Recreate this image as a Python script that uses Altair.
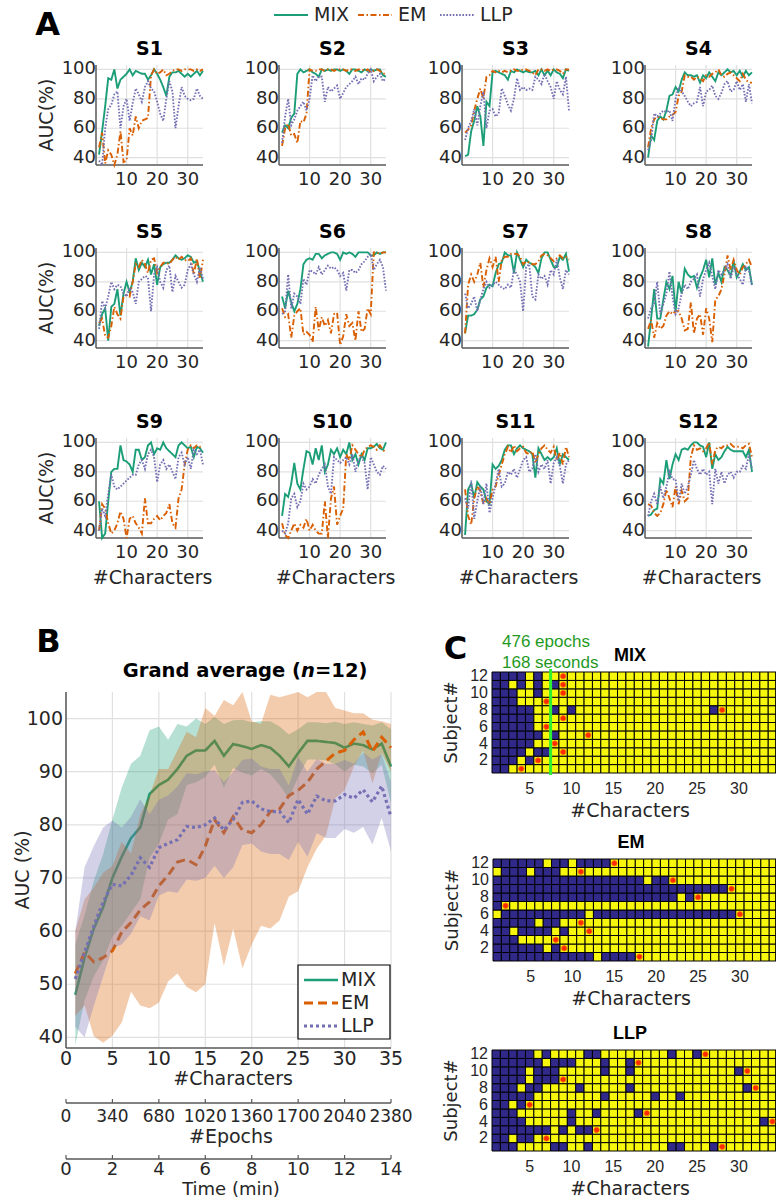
import altair as alt
import pandas as pd

GREEN, ORANGE, PURPLE = '#1b9e77', '#d95f02', '#7570b3'
METHODS = ['MIX', 'EM', 'LLP']
COLORS = [GREEN, ORANGE, PURPLE]
DASH_A = [[1, 0], [6, 2.5, 1.5, 2.5], [1.6, 1.6]]
CHARS = list(range(1, 36))
FONT = 'DejaVu Sans'
CFONT = 'Liberation Sans'
GRID, AXC, TXT = '#e0e0e0', '#595959', '#262626'

# ---------------- Panel A: per-subject AUC (%) ----------------
MIX_AUC = {
    1: [42,58,75,94,93,100,87,93,95,97,100,96,99,98,97,97,93,96,100,97,93,88,82,95,98,98,99,97,95,97,95,97,99,96,99],
    2: [57,62,60,67,70,97,100,98,99,100,98,97,95,100,99,100,99,100,100,99,100,99,97,100,100,99,98,100,99,100,99,100,100,96,95],
    3: [41,42,58,65,75,68,48,78,75,98,99,98,97,96,93,99,98,100,99,98,99,98,98,99,96,100,96,99,96,100,98,97,94,100,99],
    4: [40,55,52,65,68,66,72,82,83,88,85,93,98,96,96,95,96,91,96,94,98,95,92,98,96,98,100,98,99,96,99,95,99,96,98],
    5: [50,58,62,40,63,65,75,57,72,80,73,80,96,88,93,90,95,85,92,78,90,92,93,93,95,98,96,95,96,98,97,93,94,87,80],
    6: [70,62,74,66,60,65,75,92,95,96,95,99,99,96,98,99,100,100,99,95,100,99,100,99,97,100,100,100,100,98,98,100,99,100,100],
    7: [45,57,57,58,61,68,70,76,78,77,86,92,93,100,98,98,86,100,95,90,95,93,92,90,86,96,100,100,95,90,90,97,95,99,87],
    8: [36,55,75,55,55,68,80,75,84,60,80,72,89,85,83,84,76,83,88,95,83,96,78,86,80,90,88,84,94,83,87,92,88,90,78],
    9: [60,35,38,60,80,82,82,98,88,87,85,80,95,95,88,90,98,100,92,96,95,100,96,94,92,90,98,100,98,96,97,90,97,96,93],
    10: [50,65,63,72,86,72,68,82,94,93,85,96,88,98,80,85,95,92,96,90,95,92,100,88,92,85,92,88,96,96,97,99,96,95,100],
    11: [37,68,72,62,73,70,68,60,58,85,82,84,88,95,98,98,92,96,98,96,95,94,92,76,96,92,88,90,88,90,96,85,92,90,88],
    12: [50,51,54,55,75,72,88,75,85,92,88,95,96,95,98,100,100,98,97,90,100,82,92,88,90,94,97,95,94,94,94,94,90,95,80],
}
EM_AUC = {
    1: [47,57,36,45,42,35,42,58,37,38,60,55,68,60,65,66,67,96,100,97,98,100,96,97,99,100,100,99,100,100,100,99,100,99,100],
    2: [48,60,63,55,56,50,65,64,70,100,99,99,100,100,99,100,100,99,100,100,100,99,100,100,99,100,100,99,100,98,99,100,99,97,97],
    3: [57,59,62,72,80,87,80,95,96,99,98,99,98,99,98,99,100,99,99,100,100,99,98,96,100,100,99,100,99,100,100,99,97,100,100],
    4: [47,60,66,68,67,66,66,68,69,71,82,85,96,95,95,93,95,94,92,96,95,97,98,100,96,95,97,98,96,94,92,97,93,91,91],
    5: [52,55,43,42,50,63,58,55,70,71,70,80,92,90,95,92,86,95,96,86,90,93,93,92,95,97,95,97,95,94,96,85,96,82,95],
    6: [62,56,58,42,57,60,62,44,46,44,39,63,47,56,50,54,45,58,59,37,43,58,50,52,40,60,46,48,62,58,100,100,99,100,100],
    7: [45,78,85,80,85,93,76,88,96,90,97,80,95,97,97,99,99,99,97,92,94,93,92,92,94,98,99,98,96,94,96,98,96,97,95],
    8: [48,54,42,52,48,50,57,60,58,60,60,55,47,48,66,45,55,58,44,62,55,39,68,70,75,85,98,88,95,88,85,90,92,95,90],
    9: [40,58,55,45,38,40,45,53,48,35,48,50,45,42,38,62,45,45,48,50,47,50,52,58,45,42,62,68,85,95,98,96,98,97,98],
    10: [45,37,35,40,45,40,44,42,48,40,44,40,38,38,60,35,62,70,44,50,55,92,88,98,95,92,90,95,97,98,97,95,98,95,93],
    11: [68,50,44,62,70,67,58,62,58,68,70,78,85,92,97,93,98,94,96,97,93,92,94,86,92,96,98,95,93,97,88,93,85,97,90],
    12: [58,57,52,50,52,58,68,62,56,70,58,67,60,62,90,98,95,96,94,96,100,85,95,97,96,98,98,99,97,97,97,96,98,99,90],
}
LLP_AUC = {
    1: [38,35,60,73,76,83,85,60,75,80,65,77,87,83,78,88,92,87,85,78,70,65,80,92,85,60,75,88,82,80,79,80,87,82,80],
    2: [50,68,80,62,66,72,75,78,72,80,96,92,95,95,78,88,85,87,89,80,84,88,90,92,95,90,94,93,97,100,92,95,97,92,94],
    3: [52,60,65,73,62,75,85,60,72,73,68,70,87,82,76,72,80,94,86,88,86,87,86,95,93,90,97,92,88,80,92,86,83,95,72],
    4: [45,52,70,68,70,72,71,72,65,80,88,85,82,78,75,77,78,88,75,85,86,89,82,80,84,90,92,85,86,92,86,90,78,90,77],
    5: [48,67,62,70,80,75,78,77,72,70,76,73,65,80,82,84,83,60,85,90,80,76,88,91,73,84,80,76,78,88,92,85,80,90,82],
    6: [58,60,85,62,72,70,65,82,78,88,87,85,90,85,88,91,89,90,88,84,86,74,88,88,86,88,92,94,97,99,88,92,95,90,74],
    7: [72,62,65,70,60,68,75,80,76,78,80,78,76,75,78,76,88,85,80,60,90,92,70,68,85,82,84,78,88,85,95,83,75,88,85],
    8: [55,62,65,80,58,65,72,87,70,58,62,72,78,75,80,82,85,70,82,88,93,84,75,88,85,88,92,82,90,85,82,78,90,88,77],
    9: [40,55,50,65,78,70,68,70,72,74,76,78,78,85,88,82,92,95,90,73,85,88,82,85,80,75,90,93,85,90,82,95,92,95,85],
    10: [40,38,45,62,65,56,60,72,68,70,75,72,78,82,85,70,65,90,88,86,88,90,85,92,80,88,90,86,68,90,85,80,78,84,82],
    11: [62,55,74,48,60,70,58,72,52,62,72,82,70,72,80,78,82,76,82,88,90,80,82,92,80,85,82,88,72,86,90,84,72,85,88],
    12: [50,60,65,58,70,62,70,80,75,75,60,72,65,70,78,88,82,78,82,78,80,58,82,72,80,72,78,80,76,80,80,84,82,92,82],
}
A_YTICKS = [40, 60, 80, 100]
A_XTICKS = [10, 20, 30]

# ---------------- Panel B: grand average ----------------
MIX_MEAN = [48,55,60.5,64.5,70,74,77.5,79.5,85.8,87.5,88.5,90.5,93,94,94,95.8,93,95.2,94.8,94.3,95,94.5,93,91,93.5,95.8,95.8,95.6,95.4,94.5,95.3,95,94.2,95.3,91]
MIX_SD = [9.5,8,9,10,11,13,14,13.5,12,11,7.5,8.5,5.5,6,5,4.5,6,4.5,5,5,4.5,5,5.5,6,4.5,3.5,3.5,3.5,4,4.5,4,4,4.5,4,7]
EM_MEAN = [52,56,54.2,55,56.3,59.8,61.6,64,65.5,68.5,70.5,73,73.5,72.5,76,81,78.5,81.5,79,78.5,80,82.5,83,85.5,86.5,88,90.5,92,93.5,94,96,97.5,93.8,96.5,94.5]
EM_SD = [8,10,14,16,16,17,13,18,20,22,20,21,24,24,26,19.5,25,21,26,21,19,22,21,19,19,16,15,14,8.5,7.5,5,3.5,6,3,4.5]
LLP_MEAN = [51,56,61,65.5,68.8,68.5,70.5,73.8,72,75.7,76.5,77.2,79.7,79.5,80,81.3,79,81,84.2,84.5,83,82.5,82.5,80.4,84.8,82,85.4,84.5,84.5,85.7,85,86.6,84.3,87.3,81.5]
LLP_SD = [9,16,15,14,12,11,11,11,10,9,9,10,10,10,10,9,9,9,8,8,8,8,8,7,8,8,7,7,7,6.5,6.5,7,8,6,6.5]
B_XTICKS = [0, 5, 10, 15, 20, 25, 30, 35]
B_YTICKS = [40, 50, 60, 70, 80, 90, 100]
EPOCH_TICKS = [0, 340, 680, 1020, 1360, 1700, 2040, 2380]
TIME_TICKS = [0, 2, 4, 6, 8, 10, 12, 14]

# ---------------- Panel C: cells below threshold (blue) + marker ----------------
MIX_BLUE = {1: [1,2], 2: [1,2,3,5], 3: [1,2,3,4,6,7], 4: [1,2,3,4,5], 5: [1,2,3,4,5,6,8],
            6: [1,2,3,4,5], 7: [1,2,3,4,5], 8: [1,2,3,4,5,8,10,27], 9: [1,2,3],
            10: [1,2,3,6], 11: [1,2,4,6,8], 12: [1,2,3,4,6]}
MIX_DOT = {1: 4, 2: 6, 3: 9, 4: 8, 5: 12, 6: 7, 7: 9, 8: 28, 9: 7, 10: 9, 11: 9, 12: 9}
EM_BLUE = {1: [1,2,3,4,5,6,7,8,9,10,11,12,14,15,16,17], 2: [1,2,3,4,5,6,8], 3: [1,2,3],
           4: [1,2,4,5,6,7,9], 5: [1,2,3,4,5,7,8],
           6: [2,3,4,5,6,7,8,9,10,11,13,14,15,16,17,18,19,20,21,22,23,24,25,26,27,28,29],
           7: [1], 8: [1,2,3,4,5,6,7,8,9,10,11,12,13,14,15,16,17,18,19,20,21,22,24],
           9: [1,2,3,4,5,6,7,8,9,10,11,12,13,14,15,16,17,18,19,20,21,22,23,24,25,26,27,28],
           10: [1,2,3,4,5,6,7,8,9,10,11,12,13,14,15,16,17,18,20,21],
           11: [2,3,4,6,7,8], 12: [1,2,3,4,5,6,8,9,11,12,13,14]}
EM_DOT = {1: 18, 2: 9, 3: 8, 4: 12, 5: 11, 6: 30, 7: 2, 8: 25, 9: 29, 10: 22, 11: 11, 12: 15}
LLP_BLUE = {1: [1,2,3,8,9,12,22,23,27], 2: [1,2,4,5], 3: [1,2,3,4,5,6,7,9,11,12],
            4: [1,2,3,4,10,33], 5: [1,2,3,10,13,18], 6: [1,2,4], 7: [1,2,3,4,5,14,20,23],
            8: [1,2,3,5,6,11,17,31], 9: [1,2,3,4,6,7,8], 10: [1,2,3,4,6,7,8,14,17,30],
            11: [1,2,3,4,5,6,8,9,10,14,17], 12: [1,2,3,4,5,7,12,13,22,25]}
LLP_DOT = {1: 28, 2: 7, 3: 13, 4: 34, 5: 19, 6: 5, 8: 32, 9: 9, 10: 31, 11: 18, 12: 26}
C_XTICKS = [5, 10, 15, 20, 25, 30]
C_YTICKS = [2, 4, 6, 8, 10, 12]
BLUE, YELLOW, RED = '#30298a', '#f7f70e', '#ff2a00'


def one():
    return alt.Chart(pd.DataFrame({'k': [0]}))


def sc(dom, rng):
    return alt.Scale(domain=dom, range=rng, nice=False, zero=False, clamp=True)


def helpers(xs, ys):
    X = lambda f: alt.X(f, scale=xs, axis=None)
    Y = lambda f: alt.Y(f, scale=ys, axis=None)
    XD = lambda v: alt.XDatum(v, scale=xs, axis=None)
    YD = lambda v: alt.YDatum(v, scale=ys, axis=None)
    return X, Y, XD, YD


# ---------- Panel A ----------
A_LEFT = [96, 279, 462, 645]
A_BOTTOM = [165, 348, 538]
A_W, A_H = 107, 100


def panel_a(k):
    r, q = divmod(k - 1, 4)
    L, B = A_LEFT[q], A_BOTTOM[r]
    xs = sc([0, 35], [L, L + A_W])
    ys = sc([35, 103], [B, B - A_H])
    X, Y, XD, YD = helpers(xs, ys)
    yt = pd.DataFrame({'v': A_YTICKS})
    xt = pd.DataFrame({'g': A_XTICKS})
    lay = [
        alt.Chart(yt).mark_rule(color=GRID, strokeWidth=1.2).encode(x=XD(0), x2=alt.X2Datum(35), y=Y('v:Q')),
        alt.Chart(xt).mark_rule(color=GRID, strokeWidth=1.2).encode(x=X('g:Q'), y=YD(35), y2=alt.Y2Datum(103)),
        one().mark_rule(color=AXC, strokeWidth=1.5).encode(x=XD(0), y=YD(35), y2=alt.Y2Datum(103)),
        one().mark_rule(color=AXC, strokeWidth=1.5).encode(x=XD(0), x2=alt.X2Datum(35), y=YD(35)),
        alt.Chart(yt).mark_text(align='right', baseline='middle', font=FONT, fontSize=18, color=TXT).encode(
            x=XD(0), y=Y('v:Q'), text='v:Q'),
        alt.Chart(xt).mark_text(align='center', baseline='middle', font=FONT, fontSize=18, color=TXT, dy=15).encode(
            x=X('g:Q'), y=YD(35), text='g:Q'),
    ]
    df = pd.DataFrame({'c': CHARS * 3, 'v': MIX_AUC[k] + EM_AUC[k] + LLP_AUC[k],
                       'm': ['MIX'] * 35 + ['EM'] * 35 + ['LLP'] * 35})
    lay.append(alt.Chart(df).mark_line(strokeWidth=1.9).encode(
        x=X('c:Q'), y=Y('v:Q'),
        color=alt.Color('m:N', scale=alt.Scale(domain=METHODS, range=COLORS), legend=None),
        strokeDash=alt.StrokeDash('m:N', scale=alt.Scale(domain=METHODS, range=DASH_A), legend=None)))
    lay.append(one().mark_text(text=f'S{k}', font=FONT, fontSize=19, fontWeight='bold', color='black',
                               baseline='middle', dy=-16).encode(x=XD(17.5), y=YD(103)))
    if q == 0:
        # rotated text: dy moves it horizontally (negative = left)
        lay.append(one().mark_text(text='AUC(%)', font=FONT, fontSize=19, color=TXT, angle=270,
                                   align='center', baseline='middle', dy=-49).encode(x=XD(0), y=YD(69)))
    if r == 2:
        lay.append(one().mark_text(text='#Characters', font=FONT, fontSize=19, color=TXT,
                                   baseline='middle', dy=40).encode(x=XD(18.5), y=YD(35)))
    return alt.layer(*lay)


legend_a = []
for name, col, dash, x0, xt_ in [('MIX', GREEN, [1, 0], 274, 314), ('EM', ORANGE, [6, 2.5, 1.5, 2.5], 358, 398),
                                  ('LLP', PURPLE, [1.6, 1.6], 440, 480)]:
    legend_a.append(one().mark_rule(color=col, strokeWidth=2, strokeDash=dash).encode(
        x=alt.value(x0), x2=alt.value(x0 + 34), y=alt.value(15)))
    legend_a.append(one().mark_text(text=name, align='left', baseline='middle', font=FONT, fontSize=19,
                                    color=TXT).encode(x=alt.value(xt_), y=alt.value(15)))

# ---------- Panel B ----------
BL, BR, BT, BB = 66, 391, 692, 1048


def panel_b():
    xs = sc([0, 35], [BL, BR])
    ys = sc([38, 105], [BB, BT])
    X, Y, XD, YD = helpers(xs, ys)
    yt = pd.DataFrame({'v': B_YTICKS})
    xt = pd.DataFrame({'g': B_XTICKS})
    lay = [
        alt.Chart(yt).mark_rule(color=GRID, strokeWidth=1.2).encode(x=XD(0), x2=alt.X2Datum(35), y=Y('v:Q')),
        alt.Chart(xt).mark_rule(color=GRID, strokeWidth=1.2).encode(x=X('g:Q'), y=YD(38), y2=alt.Y2Datum(105)),
    ]
    for mean, sd, col, dash, w in [(MIX_MEAN, MIX_SD, GREEN, [1, 0], 2.6), (EM_MEAN, EM_SD, ORANGE, [9, 5], 3),
                                   (LLP_MEAN, LLP_SD, PURPLE, [3, 3], 3.2)]:
        df = pd.DataFrame({'c': CHARS, 'm': mean, 'sd': sd})
        df['lo'] = df.m - df.sd
        df['hi'] = df.m + df.sd
        lay.append(alt.Chart(df).mark_area(color=col, opacity=0.32).encode(x=X('c:Q'), y=Y('lo:Q'), y2='hi:Q'))
        lay.append(alt.Chart(df).mark_line(color=col, strokeWidth=w, strokeDash=dash).encode(x=X('c:Q'), y=Y('m:Q')))
    lay += [
        one().mark_rule(color=AXC, strokeWidth=1.5).encode(x=XD(0), y=YD(38), y2=alt.Y2Datum(105)),
        one().mark_rule(color=AXC, strokeWidth=1.5).encode(x=XD(0), x2=alt.X2Datum(35), y=YD(38)),
        alt.Chart(yt).mark_text(align='right', baseline='middle', font=FONT, fontSize=19, color=TXT, dx=-3).encode(
            x=XD(0), y=Y('v:Q'), text='v:Q'),
        alt.Chart(xt).mark_text(align='center', baseline='middle', font=FONT, fontSize=19, color=TXT, dy=11).encode(
            x=X('g:Q'), y=YD(38), text='g:Q'),
        one().mark_text(text='#Characters', font=FONT, fontSize=19, color=TXT, baseline='middle', dy=31).encode(
            x=XD(18), y=YD(38)),
        one().mark_text(text='AUC (%)', font=FONT, fontSize=19, color=TXT, angle=270, align='center',
                        baseline='middle', dy=-43).encode(x=XD(0), y=YD(71.5)),
    ]
    # legend box
    lay.append(one().mark_rect(fill='white', stroke='black', strokeWidth=1.2).encode(
        x=alt.value(298), x2=alt.value(390), y=alt.value(965), y2=alt.value(1039)))
    for name, col, dash, w, yy in [('MIX', GREEN, [1, 0], 2.6, 980), ('EM', ORANGE, [9, 5], 3, 1003),
                                   ('LLP', PURPLE, [3, 3], 3, 1026)]:
        lay.append(one().mark_rule(color=col, strokeWidth=w, strokeDash=dash).encode(
            x=alt.value(304), x2=alt.value(338), y=alt.value(yy)))
        lay.append(one().mark_text(text=name, align='left', baseline='middle', font=FONT, fontSize=19,
                                   color=TXT).encode(x=alt.value(341), y=alt.value(yy)))
    return alt.layer(*lay)


def sec_axis(ticks, dom, ly, fs, ldy, ttl, tfs, ty):
    s2 = sc(dom, [BL, BR])
    tdf = pd.DataFrame({'t': ticks})
    return alt.layer(
        one().mark_rule(color=AXC, strokeWidth=1.5).encode(
            x=alt.XDatum(dom[0], scale=s2, axis=None), x2=alt.X2Datum(dom[1]), y=alt.value(ly)),
        alt.Chart(tdf).mark_rule(color=AXC, strokeWidth=1.2).encode(
            x=alt.X('t:Q', scale=s2, axis=None), y=alt.value(ly - 4), y2=alt.value(ly)),
        alt.Chart(tdf).mark_text(align='center', baseline='middle', font=FONT, fontSize=fs, color=TXT).encode(
            x=alt.X('t:Q', scale=s2, axis=None), y=alt.value(ly + ldy), text='t:Q'),
        one().mark_text(text=ttl, font=FONT, fontSize=tfs, color=TXT, baseline='middle').encode(
            x=alt.value(231), y=alt.value(ty)),
    )


b_title = [
    one().mark_text(text='Grand average (', align='right', baseline='middle', font=FONT, fontSize=19.5,
                    fontWeight='bold').encode(x=alt.value(301), y=alt.value(671)),
    one().mark_text(text='n', align='left', baseline='middle', font=FONT, fontSize=19.5, fontWeight='bold',
                    fontStyle='italic').encode(x=alt.value(301), y=alt.value(671)),
    one().mark_text(text='=12)', align='left', baseline='middle', font=FONT, fontSize=19.5,
                    fontWeight='bold').encode(x=alt.value(315), y=alt.value(671)),
]

# ---------- Panel C ----------
CW = 8.37


def panel_c(title, blue, dots, L, T, Bm, marker=False):
    xs = sc([0.5, 0.5 + (776 - L) / CW], [L, 776])
    ys = sc([0.5, 12.5], [Bm, T])
    X, Y, XD, YD = helpers(xs, ys)
    recs = [{'c0': c - 0.5, 'c1': c + 0.5, 's0': s - 0.5, 's1': s + 0.5,
             'st': 'lo' if c in blue[s] else 'hi'} for s in range(1, 13) for c in CHARS]
    cells = pd.DataFrame(recs)
    dd = pd.DataFrame({'s': list(dots.keys()), 'c': list(dots.values())})
    lay = [
        alt.Chart(cells).mark_rect(stroke='black', strokeWidth=1).encode(
            x=X('c0:Q'), x2='c1:Q', y=Y('s0:Q'), y2='s1:Q',
            color=alt.Color('st:N', scale=alt.Scale(domain=['lo', 'hi'], range=[BLUE, YELLOW]), legend=None)),
        alt.Chart(dd).mark_point(filled=True, size=30, color=RED, stroke='#ff7a00', strokeWidth=0.8,
                                 opacity=1).encode(x=X('c:Q'), y=Y('s:Q')),
        alt.Chart(pd.DataFrame({'s': C_YTICKS})).mark_text(align='right', baseline='middle', font=CFONT,
                                                           fontSize=16, color=TXT, dx=-4).encode(
            x=XD(0.5), y=Y('s:Q'), text='s:Q'),
        alt.Chart(pd.DataFrame({'c': C_XTICKS})).mark_text(align='center', baseline='middle', font=CFONT,
                                                           fontSize=16, color=TXT, dy=16).encode(
            x=X('c:Q'), y=YD(0.5), text='c:Q'),
        one().mark_text(text='#Characters', font=FONT, fontSize=19, color=TXT, baseline='middle', dy=38).encode(
            x=XD(17), y=YD(0.5)),
        one().mark_text(text='Subject#', font=FONT, fontSize=18, color=TXT, angle=270, align='center',
                        baseline='middle', dy=-40).encode(x=XD(0.5), y=YD(6.5)),
        one().mark_text(text=title, font=CFONT, fontSize=18, fontWeight='bold', color='black',
                        baseline='middle', dy=-16).encode(x=XD(17), y=YD(12.5)),
    ]
    if marker:
        lay += [
            one().mark_rule(color='#2ef02e', strokeWidth=3).encode(x=XD(7.5), y=alt.value(669), y2=alt.value(775)),
            one().mark_text(text='476 epochs', align='left', baseline='middle', font=CFONT, fontSize=17,
                            color='#1f9a1f').encode(x=alt.value(502), y=alt.value(642)),
            one().mark_text(text='168 seconds', align='left', baseline='middle', font=CFONT, fontSize=17,
                            color='#1f9a1f').encode(x=alt.value(502), y=alt.value(663)),
        ]
    return alt.layer(*lay)


letters = [one().mark_text(text=t, font=FONT, fontSize=32, fontWeight='bold', color='black',
                           align='center', baseline='middle').encode(x=alt.value(x), y=alt.value(y))
           for t, x, y in [('A', 47.5, 25), ('B', 48.5, 642), ('C', 455.5, 649)]]

parts = legend_a + letters + b_title + [panel_a(k) for k in range(1, 13)] + [panel_b()] + [
    sec_axis(EPOCH_TICKS, [0, 2380], 1103, 17, 14, '#Epochs', 19, 1137),
    sec_axis(TIME_TICKS, [0, 14], 1159, 18, 11, 'Time (min)', 18, 1190),
    panel_c('MIX', MIX_BLUE, MIX_DOT, 492, 672, 773, marker=True),
    panel_c('EM', EM_BLUE, EM_DOT, 493, 859, 961),
    panel_c('LLP', LLP_BLUE, LLP_DOT, 492, 1050, 1151),
]

chart = alt.layer(*parts).resolve_scale(
    x='independent', y='independent', color='independent', strokeDash='independent'
).properties(
    width=776, height=1200, autosize=alt.AutoSizeParams(type='none'), padding=0
).configure_view(stroke=None)

chart.save('out.html', embed_options={'renderer': 'svg', 'actions': False})
